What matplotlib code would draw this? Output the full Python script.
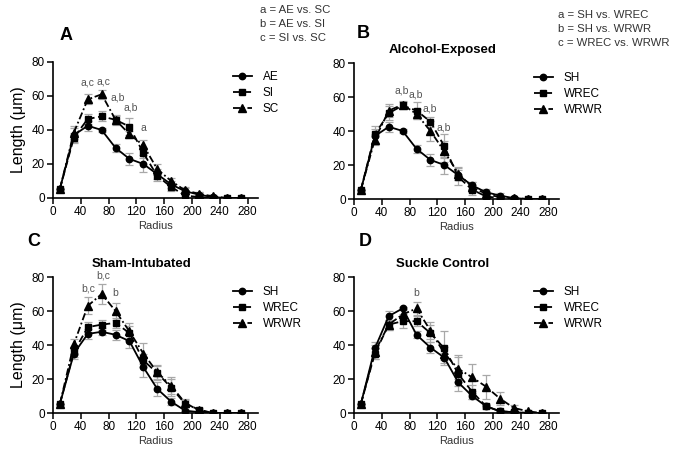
import matplotlib
matplotlib.use("Agg")
import matplotlib.pyplot as plt

plt.rcParams['font.family'] = ['Liberation Sans', 'DejaVu Sans']

radius = [10, 30, 50, 70, 90, 110, 130, 150, 170, 190, 210, 230, 250, 270]

# panel A: treatment groups
a_ae = [5.5, 37, 42.5, 40, 29.5, 23, 20, 14, 8, 4, 2, 0.5, 0, 0]
a_ae_err = [0, 4, 3, 1, 2.5, 3.5, 5, 3, 2, 2, 1.5, 0.5, 0, 0]
a_si = [5.5, 35.5, 46.5, 48, 46, 42, 26.5, 13, 6.5, 1.5, 0.5, 0, 0, 0]
a_si_err = [0, 3, 3, 3, 3, 5, 3, 3, 2.5, 2, 1, 0, 0, 0]
a_sc = [5.5, 38.5, 58, 61, 46, 37.5, 31, 17, 10, 4.5, 2.5, 1, 0, 0]
a_sc_err = [0, 4, 3, 2.5, 2, 2, 3, 3, 2, 2, 1, 0.5, 0, 0]

# panel B: alcohol-exposed
b_sh = [5.5, 37, 42.5, 40, 29.5, 23, 20, 14, 8, 4, 2, 0.5, 0, 0]
b_sh_err = [0, 4, 3, 1, 2.5, 3.5, 5, 3, 2, 2, 1.5, 0.5, 0, 0]
b_wrec = [5.5, 38, 50.5, 55, 52, 45.5, 31, 13, 5.5, 1.5, 0.5, 0, 0, 0]
b_wrec_err = [0, 5, 4, 2, 5, 3, 7, 5, 3, 2, 1, 0, 0, 0]
b_wrwr = [5.5, 35, 52, 55.5, 50, 40, 28, 15, 7, 3, 1, 0.5, 0, 0]
b_wrwr_err = [0, 3, 4, 2, 3, 6, 6, 4, 3, 2, 1, 0.5, 0, 0]

# panel C: sham-intubated
c_sh = [5.5, 35, 46.5, 47.8, 46, 42.3, 27, 14.2, 6.7, 1.4, 0.5, 0, 0, 0]
c_sh_err = [0, 3, 3, 2, 3, 4, 6, 4, 2, 1, 0.5, 0, 0, 0]
c_wrec = [5.5, 36, 50.5, 52, 53, 47, 31, 23.5, 15, 5.5, 2, 0, 0, 0]
c_wrec_err = [0, 3, 3, 3, 3, 4, 4, 4, 5, 2, 1, 0, 0, 0]
c_wrwr = [5.5, 40.5, 63, 70, 60, 48, 35, 24, 16, 6, 1.5, 0, 0, 0]
c_wrwr_err = [0, 3, 5, 6, 5, 5, 6, 4, 5, 2, 1, 0, 0, 0]

# panel D: suckle control
d_sh = [5.5, 38, 57, 61.5, 46, 38.5, 32.5, 18, 10, 4, 1, 0.5, 0, 0]
d_sh_err = [0, 4, 3, 1, 2, 3, 3, 2, 2, 1, 0.5, 0, 0, 0]
d_wrec = [5.5, 35, 52, 54, 54, 47, 38, 23, 12.5, 4, 1, 0.5, 0, 0]
d_wrec_err = [0, 3, 3, 4, 3, 5, 10, 10, 4, 1.5, 1, 0.5, 0, 0]
d_wrwr = [5.5, 36, 52, 58, 61.5, 48.5, 35, 26, 21, 15.5, 8.5, 3, 1, 0]
d_wrwr_err = [0, 4, 3, 3, 4, 5, 4, 8, 8, 7, 4, 2, 1, 0]

# significance letters: (radius, height, text)
a_sig = [(50, 68, "a,c"), (73, 68.5, "a,c"), (93, 59, "a,b"), (112, 53, "a,b"), (130, 41, "a")]
b_sig = [(68, 64, "a,b"), (89, 61.5, "a,b"), (109, 53, "a,b"), (129, 42, "a,b")]
c_sig = [(50, 73.5, "b,c"), (72, 81, "b,c"), (90, 70.5, "b")]
d_sig = [(89, 70.5, "b")]

STYLES = [("o", "-"), ("s", (0, (4, 2))), ("^", (0, (4, 1.5, 1, 1.5)))]


def panel(ax, series, labels, sig, title, ylabel):
    for (ys, err), lab, (mk, ls) in zip(series, labels, STYLES):
        ax.errorbar(radius, ys, yerr=err, fmt="none", ecolor="#a8a8a8",
                    elinewidth=0.9, capsize=2.8, capthick=0.9, zorder=1)
        ax.plot(radius, ys, color="black", ls=ls, lw=1.3, marker=mk,
                ms=4.6 if mk != "^" else 5.2, label=lab, zorder=3)
    for x, y, t in sig:
        ax.text(x, y, t, fontsize=7.5, color="#555555", ha="center", va="center")
    ax.set_xlim(0, 295)
    ax.set_ylim(0, 80)
    ax.set_xticks(range(0, 281, 40))
    ax.set_yticks(range(0, 81, 20))
    ax.spines["top"].set_visible(False)
    ax.spines["right"].set_visible(False)
    ax.spines["left"].set_linewidth(1.2)
    ax.spines["bottom"].set_linewidth(1.2)
    ax.tick_params(direction="out", length=4, width=1.1, labelsize=8.5, pad=2)
    ax.set_xlabel("Radius", fontsize=8, color="#333333", labelpad=2)
    if ylabel:
        ax.set_ylabel("Length (\u03bcm)", fontsize=11.5, labelpad=4)
    if title:
        ax.text(0.43, 1.095, title, transform=ax.transAxes, fontsize=9.5,
                fontweight="bold", ha="center", va="center")
    ax.legend(loc="upper left", bbox_to_anchor=(0.855, 0.97), frameon=False,
              fontsize=8.5, handlelength=1.6, handletextpad=0.9, labelspacing=0.35,
              borderaxespad=0)
    return ax


W, H = 677, 449
fig = plt.figure(figsize=(W / 100, H / 100), dpi=100)


def add_axes(left, right, bottom, top):
    return fig.add_axes([left / W, 1 - bottom / H, (right - left) / W, (bottom - top) / H])


ax_a = add_axes(53, 258, 198, 62)
ax_b = add_axes(354, 559, 199, 63)
ax_c = add_axes(53, 258, 413, 277)
ax_d = add_axes(354, 559, 413, 277)

panel(ax_a, [(a_ae, a_ae_err), (a_si, a_si_err), (a_sc, a_sc_err)],
      ["AE", "SI", "SC"], a_sig, None, True)
panel(ax_b, [(b_sh, b_sh_err), (b_wrec, b_wrec_err), (b_wrwr, b_wrwr_err)],
      ["SH", "WREC", "WRWR"], b_sig, "Alcohol-Exposed", False)
panel(ax_c, [(c_sh, c_sh_err), (c_wrec, c_wrec_err), (c_wrwr, c_wrwr_err)],
      ["SH", "WREC", "WRWR"], c_sig, "Sham-Intubated", True)
panel(ax_d, [(d_sh, d_sh_err), (d_wrec, d_wrec_err), (d_wrwr, d_wrwr_err)],
      ["SH", "WREC", "WRWR"], d_sig, "Suckle Control", False)

# panel letters
for t, x, y in [("A", 66, 35), ("B", 363, 34), ("C", 34, 242), ("D", 365, 242)]:
    fig.text(x / W, 1 - y / H, t, fontsize=13, fontweight="bold", ha="center", va="center")

# comparison keys
key_a = ["a = AE vs. SC", "b = AE vs. SI", "c = SI vs. SC"]
key_b = ["a = SH vs. WREC", "b = SH vs. WRWR", "c = WREC vs. WRWR"]
for i, s in enumerate(key_a):
    fig.text(260 / W, 1 - (10 + 14 * i) / H, s, fontsize=8.2, color="#333333", va="center")
for i, s in enumerate(key_b):
    fig.text(558 / W, 1 - (15 + 14 * i) / H, s, fontsize=8.2, color="#333333", va="center")

fig.savefig("out.png", dpi=100)
